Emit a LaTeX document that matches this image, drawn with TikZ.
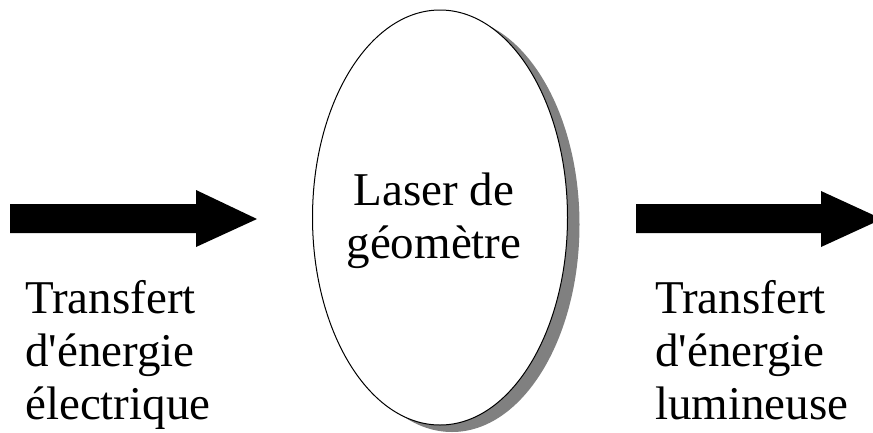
\documentclass[tikz,border=0pt]{standalone}
\usepackage{fontspec}
\setmainfont{Liberation Serif}
\newfontfamily\labfont{Liberation Serif}
\begin{document}
\begin{tikzpicture}[x=1pt,y=-1pt,
  label/.style={inner sep=0pt,font=\labfont\fontsize{47}{53}\selectfont},
  bigarrow/.style={fill=black,draw=none},
  shadow/.style={fill=black!50,draw=none},
  ovalbox/.style={fill=white,draw=black,line width=1pt}]
\useasboundingbox (0,0) rectangle (873,432);
\clip (0,0) rectangle (873,432);
% left arrow
\draw[bigarrow] (10,204) -- (196,204) -- (196,190) -- (257,219) -- (196,247) -- (196,233) -- (10,233) -- cycle;
% right arrow
\draw[bigarrow] (636,204) -- (821,204) -- (821,191) -- (882,219) -- (821,247) -- (821,233) -- (636,233) -- cycle;
% ellipse with shadow
\fill[shadow] (452,224.5) ellipse [x radius=127.5, y radius=207.5];
\draw[ovalbox] (440,217.5) ellipse [x radius=127.5, y radius=207.5];
\node[label,anchor=base] (laser) at (434,205) {\begin{tabular}[t]{@{}c@{}}Laser de\\géomètre\end{tabular}};
\node[label,anchor=base west] (inlabel) at (25,313) {\begin{tabular}[t]{@{}l@{}}Transfert\\d'énergie\\électrique\end{tabular}};
\node[label,anchor=base west] (outlabel) at (655,313) {\begin{tabular}[t]{@{}l@{}}Transfert\\d'énergie\\lumineuse\end{tabular}};
\end{tikzpicture}
\end{document}
